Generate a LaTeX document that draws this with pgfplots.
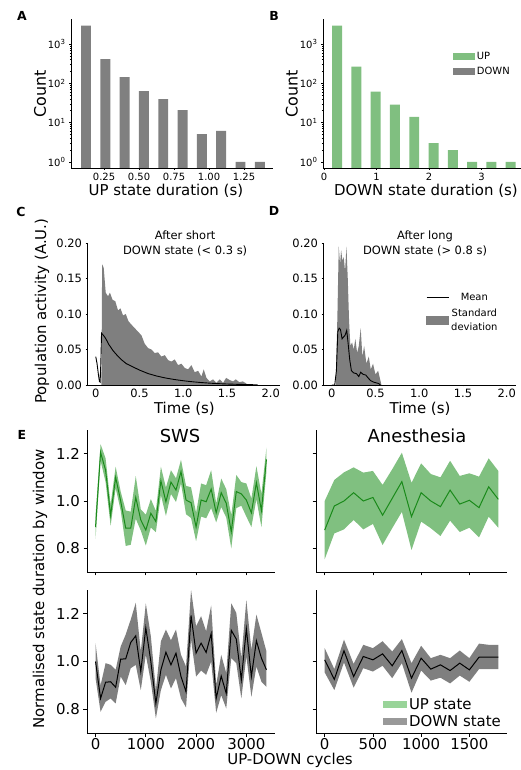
\documentclass[border=0pt]{standalone}
\usepackage{fontspec}
\setmainfont{DejaVu Sans}
\usepackage{pgfplots}
\pgfplotsset{compat=1.18}
\usepackage{pgfplotstable}

\definecolor{bargray}{HTML}{808080}
\definecolor{bargreen}{HTML}{80BF80}
\definecolor{bandgreen}{HTML}{80C080}
\definecolor{linegreen}{HTML}{1A8A1A}
\definecolor{bandgray}{HTML}{7F7F7F}
\definecolor{legup}{HTML}{99D499}
\definecolor{legdown}{HTML}{999999}

\pgfplotsset{
  base/.style={
    scale only axis, anchor=south west,
    axis x line*=bottom, axis y line*=left,
    axis line style={line width=0.8bp, -},
    tick style={black, line width=0.8bp},
    tick align=outside,
    major tick length=3.5bp, minor tick length=2bp,
  },
}

% mean lines
\pgfplotstableread{
x m
0 0.89
100 1.205
200 1.13
300 0.94
400 1.10
500 1.0
600 0.885
700 0.885
800 1.015
900 0.92
1000 0.877
1100 0.948
1200 0.913
1300 1.085
1400 0.997
1500 1.08
1600 1.046
1700 1.124
1800 1.004
1900 0.993
2000 0.89
2100 1.004
2200 0.997
2300 1.05
2400 0.95
2500 1.035
2600 0.99
2700 0.87
2800 1.04
2900 1.03
3000 1.004
3100 0.95
3200 1.077
3300 0.96
3400 1.176
}\swsup

\pgfplotstableread{
x m
0 0.877
100 0.979
200 1.0
300 1.035
400 1.0
500 1.015
600 0.94
700 1.011
800 1.082
900 0.934
1000 1.035
1100 1.0
1200 0.976
1300 1.046
1400 0.987
1500 1.003
1600 0.972
1700 1.06
1800 1.007
}\anup

\pgfplotstableread{
x m
0 1.0
100 0.845
200 0.913
300 0.915
400 0.892
500 1.01
600 1.011
700 1.08
800 1.108
900 0.958
1000 1.141
1100 1.0
1200 0.824
1300 0.965
1400 1.039
1500 0.986
1600 1.035
1700 0.937
1800 0.873
1900 1.193
2000 1.035
2100 1.077
2200 1.038
2300 1.117
2400 0.845
2500 0.939
2600 0.866
2700 1.131
2800 1.094
2900 0.923
3000 1.137
3100 0.937
3200 1.087
3300 1.014
3400 0.965
}\swsdown

\pgfplotstableread{
x m
0 1.007
100 0.925
200 1.045
300 0.937
400 1.021
500 1.007
600 1.032
700 0.982
800 1.046
900 0.93
1000 1.014
1100 0.968
1200 0.986
1300 0.962
1400 0.993
1500 0.965
1600 1.018
1700 1.018
1800 1.018
}\andown

\begin{document}
\begin{tikzpicture}
\path[use as bounding box] (0,0) rectangle (521bp,770bp);

% ---------------- A ----------------
\begin{axis}[base, at={(71bp,602bp)}, width=202bp, height=149bp,
  major tick length=2bp, minor tick length=1.2bp,
  ymode=log, log origin y=infty, ymin=0.7, ymax=4400,
  xmin=0.014, xmax=1.457,
  xtick={0.25,0.5,0.75,1,1.25}, xticklabels={0.25,0.50,0.75,1.00,1.25},
  ytick={1,10,100,1000},
  yticklabels={10\textsuperscript{0},10\textsuperscript{1},10\textsuperscript{2},10\textsuperscript{3}},
  tick label style={font=\fontsize{10}{12}\selectfont},
  xlabel={UP state duration (s)}, ylabel={Count},
  xlabel style={at={(axis description cs:0.47,-0.15)}, anchor=center, font=\fontsize{15}{18}\selectfont},
  ylabel style={at={(axis description cs:-0.153,0.5)}, anchor=center, font=\fontsize{16}{19}\selectfont},
]
\addplot[ybar, bar width=0.071, fill=bargray, draw=none]
  coordinates {(0.121,3000)(0.259,415)(0.397,145)(0.535,64)(0.673,40)(0.811,21)(0.949,5.1)(1.087,6.2)(1.225,1)(1.363,1)};
\end{axis}

% ---------------- B ----------------
\begin{axis}[base, at={(323bp,602bp)}, width=198bp, height=149bp,
  major tick length=2bp, minor tick length=1.2bp,
  ymode=log, log origin y=infty, ymin=0.7, ymax=4400,
  xmin=-0.02, xmax=3.752,
  xtick={0,1,2,3}, xticklabels={0,1,2,3},
  ytick={1,10,100,1000},
  yticklabels={10\textsuperscript{0},10\textsuperscript{1},10\textsuperscript{2},10\textsuperscript{3}},
  tick label style={font=\fontsize{10}{12}\selectfont},
  xlabel={DOWN state duration (s)}, ylabel={Count},
  xlabel style={at={(axis description cs:0.52,-0.15)}, anchor=center, font=\fontsize{15}{18}\selectfont},
  ylabel style={at={(axis description cs:-0.157,0.5)}, anchor=center, font=\fontsize{16}{19}\selectfont},
  legend cell align=left,
  legend style={at={(axis description cs:0.655,0.79)}, anchor=north west, draw=none, fill=none,
     font=\fontsize{10}{12}\selectfont, inner sep=0pt, row sep=1.5bp},
  legend image code/.code={\fill[#1] (0bp,-3.5bp) rectangle (22bp,3.5bp);},
]
\addplot[ybar, bar width=0.19, fill=bargreen, draw=none, forget plot]
  coordinates {(0.248,3000)(0.616,270)(0.983,62)(1.351,29)(1.718,14)(2.086,3)(2.454,2)(2.821,1)(3.189,1)(3.556,1)};
\addlegendimage{fill=bargreen, draw=none}
\addlegendentry{UP}
\addlegendimage{fill=bargray, draw=none}
\addlegendentry{DOWN}
\end{axis}

% ---------------- C ----------------
\begin{axis}[base, at={(87bp,385bp)}, width=192.5bp, height=142bp,
  major tick length=1.5bp,
  xmin=-0.1, xmax=2.1, ymin=0, ymax=0.2,
  xtick={0,0.5,1,1.5,2}, xticklabels={0,0.5,1.0,1.5,2.0},
  ytick={0,0.05,0.1,0.15,0.2}, yticklabels={0.00,0.05,0.10,0.15,0.20},
  tick label style={font=\fontsize{11.5}{13}\selectfont},
  xticklabel style={yshift=1bp},
  xlabel={Time (s)}, ylabel={Population activity (A.U.)},
  xlabel style={at={(axis description cs:0.506,-0.168)}, anchor=center, font=\fontsize{15}{18}\selectfont},
  ylabel style={at={(axis description cs:-0.234,0.52)}, anchor=center, font=\fontsize{15}{18}\selectfont},
  title={After short\\DOWN state (< 0.3 s)},
  title style={at={(axis description cs:0.51,0.954)}, anchor=center, align=center, font=\fontsize{11.5}{15}\selectfont},
]
\addplot[fill=bandgray, draw=none] coordinates {
(0.0648,0)(0.073,0.17)(0.091,0.165)(0.114,0.13)(0.14,0.125)(0.162,0.13)(0.192,0.12)(0.223,0.118)
(0.255,0.105)(0.282,0.108)(0.312,0.098)(0.343,0.1)(0.373,0.09)(0.408,0.085)(0.446,0.08)(0.484,0.075)
(0.522,0.07)(0.56,0.058)(0.598,0.052)(0.636,0.05)(0.674,0.045)(0.712,0.046)(0.75,0.04)(0.789,0.042)
(0.827,0.035)(0.865,0.033)(0.903,0.036)(0.941,0.028)(0.979,0.03)(1.017,0.024)(1.055,0.022)(1.093,0.028)
(1.131,0.018)(1.17,0.02)(1.208,0.012)(1.234,0.022)(1.265,0.01)(1.303,0.005)(1.341,0.008)(1.379,0.003)
(1.417,0.008)(1.455,0.003)(1.49,0.01)(1.53,0.007)(1.57,0.005)(1.6,0.008)(1.64,0.004)(1.68,0.005)
(1.71,0.003)(1.74,0)} \closedcycle;
\addplot[black, line width=0.9bp] coordinates {
(0,0.04)(0.015,0.03)(0.03,0.015)(0.042,0.005)(0.05,0.004)(0.058,0.03)(0.066,0.073)(0.08,0.071)
(0.1,0.068)(0.12,0.064)(0.15,0.057)(0.2,0.048)(0.25,0.041)(0.3,0.035)(0.35,0.03)(0.4,0.027)
(0.45,0.024)(0.5,0.021)(0.6,0.016)(0.7,0.0125)(0.8,0.0098)(0.9,0.0077)(1.0,0.006)(1.1,0.0046)
(1.2,0.0035)(1.3,0.0026)(1.4,0.0019)(1.5,0.0014)(1.6,0.001)(1.7,0.0007)(1.8,0.0004)(1.85,0.0003)};
\end{axis}

% ---------------- D ----------------
\begin{axis}[base, at={(323bp,385bp)}, width=192.5bp, height=142bp,
  major tick length=1.5bp,
  xmin=-0.1, xmax=2.1, ymin=0, ymax=0.2,
  xtick={0,0.5,1,1.5,2}, xticklabels={0,0.5,1.0,1.5,2.0},
  ytick={0,0.05,0.1,0.15,0.2}, yticklabels={0.00,0.05,0.10,0.15,0.20},
  tick label style={font=\fontsize{11.5}{13}\selectfont},
  xticklabel style={yshift=1bp},
  xlabel={Time (s)},
  xlabel style={at={(axis description cs:0.504,-0.168)}, anchor=center, font=\fontsize{15}{18}\selectfont},
  title={After long\\DOWN state (> 0.8 s)},
  title style={at={(axis description cs:0.53,0.954)}, anchor=center, align=center, font=\fontsize{11.5}{15}\selectfont},
  legend style={at={(axis description cs:0.535,0.665)}, anchor=north west, draw=none, fill=none,
     font=\fontsize{10}{14}\selectfont, inner sep=0pt, row sep=3bp, cells={align=center}},
  legend cell align=center,
]
\addplot[fill=bandgray, draw=none, forget plot] coordinates {
(0.046,0)(0.065,0.1)(0.08,0.195)(0.095,0.17)(0.107,0.19)(0.122,0.175)(0.137,0.18)(0.152,0.16)
(0.168,0.195)(0.183,0.15)(0.198,0.09)(0.213,0.055)(0.232,0.06)(0.251,0.05)(0.27,0.065)(0.29,0.045)
(0.309,0.055)(0.331,0.08)(0.35,0.04)(0.37,0.055)(0.396,0.03)(0.423,0.04)(0.446,0.022)(0.472,0.03)
(0.499,0.015)(0.53,0.02)(0.549,0.01)(0.568,0)} \closedcycle;
\addplot[black, line width=0.9bp, forget plot] coordinates {
(0,0)(0.034,0)(0.053,0.02)(0.069,0.075)(0.084,0.08)(0.1,0.078)(0.118,0.065)(0.137,0.068)
(0.152,0.07)(0.171,0.077)(0.186,0.06)(0.206,0.035)(0.225,0.02)(0.251,0.017)(0.282,0.016)
(0.309,0.012)(0.331,0.018)(0.358,0.015)(0.389,0.014)(0.415,0.01)(0.446,0.006)(0.48,0.004)
(0.51,0.003)(0.537,0.002)(0.556,0)};
\addlegendimage{legend image code/.code={\draw[black, line width=1bp] (0bp,0bp) -- (22bp,0bp);}}
\addlegendentry{Mean}
\addlegendimage{legend image code/.code={\fill[bandgray] (0bp,-4bp) rectangle (22bp,4bp);}}
\addlegendentry{Standard\\deviation}
\end{axis}

% ---------------- E1 ----------------
\begin{axis}[base, at={(87bp,198bp)}, width=188bp, height=142bp,
  xmin=-170, xmax=3570, ymin=0.7, ymax=1.3,
  xtick={0,1000,2000,3000}, xticklabels={},
  ytick={0.8,1,1.2}, yticklabels={0.8,1.0,1.2},
  tick label style={font=\fontsize{15}{18}\selectfont},
  title={SWS},
  title style={at={(axis description cs:0.495,0.915)}, anchor=center, font=\fontsize{18}{21}\selectfont},
]
\addplot[fill=bandgreen, draw=none, forget plot] coordinates {
(0,0.94)(100,1.24)(200,1.18)(300,0.985)(400,1.145)(500,1.04)(600,0.96)(700,0.955)(800,1.105)(900,0.965)
(1000,0.942)(1100,1.008)(1200,0.958)(1300,1.145)(1400,1.057)(1500,1.13)(1600,1.096)(1700,1.174)(1800,1.064)
(1900,1.058)(2000,0.95)(2100,1.074)(2200,1.067)(2300,1.13)(2400,0.99)(2500,1.095)(2600,1.05)(2700,0.94)
(2800,1.11)(2900,1.08)(3000,1.074)(3100,1.01)(3200,1.147)(3300,1.03)(3400,1.226)
(3400,1.126)(3300,0.89)(3200,1.007)(3100,0.89)(3000,0.934)(2900,0.98)(2800,0.97)(2700,0.80)(2600,0.93)
(2500,0.975)(2400,0.91)(2300,0.97)(2200,0.927)(2100,0.934)(2000,0.83)(1900,0.928)(1800,0.944)(1700,1.074)
(1600,0.996)(1500,1.03)(1400,0.937)(1300,1.025)(1200,0.868)(1100,0.888)(1000,0.812)(900,0.875)(800,0.925)
(700,0.815)(600,0.81)(500,0.96)(400,1.055)(300,0.895)(200,1.08)(100,1.17)(0,0.84)};
\addplot[linegreen, line width=1bp] table[x=x,y=m]{\swsup};
\end{axis}

% ---------------- E2 ----------------
\begin{axis}[base, at={(316bp,198bp)}, width=191bp, height=142bp,
  xmin=-90, xmax=1890, ymin=0.7, ymax=1.3,
  xtick={0,500,1000,1500}, xticklabels={},
  ytick={0.8,1,1.2}, yticklabels={},
  title={Anesthesia},
  title style={at={(axis description cs:0.529,0.915)}, anchor=center, font=\fontsize{18}{21}\selectfont},
]
\addplot[fill=bandgreen, draw=none, forget plot] coordinates {
(0,1.0)(100,1.089)(200,1.121)(300,1.142)(400,1.12)(500,1.127)(600,1.068)(700,1.134)(800,1.204)(900,1.077)
(1000,1.159)(1100,1.114)(1200,1.1)(1300,1.17)(1400,1.106)(1500,1.117)(1600,1.103)(1700,1.18)(1800,1.127)
(1800,0.887)(1700,0.934)(1600,0.846)(1500,0.887)(1400,0.869)(1300,0.917)(1200,0.852)(1100,0.885)(1000,0.913)
(900,0.793)(800,0.954)(700,0.885)(600,0.814)(500,0.903)(400,0.88)(300,0.92)(200,0.88)(100,0.863)(0,0.754)};
\addplot[linegreen, line width=1bp] table[x=x,y=m]{\anup};
\end{axis}

% ---------------- E3 ----------------
\begin{axis}[base, at={(87bp,37bp)}, width=188bp, height=143bp,
  xmin=-170, xmax=3570, ymin=0.7, ymax=1.3,
  xtick={0,1000,2000,3000}, xticklabels={0,1000,2000,3000},
  ytick={0.8,1,1.2}, yticklabels={0.8,1.0,1.2},
  tick label style={font=\fontsize{15}{18}\selectfont},
  xticklabel style={yshift=1.5bp},
  xlabel={UP-DOWN cycles}, ylabel={Normalised state duration by window},
  xlabel style={at={(axis description cs:1.08,-0.19)}, anchor=center, font=\fontsize{15}{18}\selectfont},
  ylabel style={at={(axis description cs:-0.25,1.007)}, anchor=center, font=\fontsize{15}{18}\selectfont},
]
\addplot[fill=bandgray, draw=none, forget plot] coordinates {
(0,1.077)(100,0.9)(200,0.993)(300,0.986)(400,0.965)(500,1.063)(600,1.113)(700,1.176)(800,1.246)(900,1.042)
(1000,1.244)(1100,1.106)(1200,0.88)(1300,1.085)(1400,1.134)(1500,1.089)(1600,1.134)(1700,1.028)(1800,0.979)
(1900,1.30)(2000,1.148)(2100,1.19)(2200,1.127)(2300,1.235)(2400,0.901)(2500,1.028)(2600,0.951)(2700,1.244)
(2800,1.204)(2900,1.014)(3000,1.258)(3100,1.049)(3200,1.197)(3300,1.12)(3400,1.042)
(3400,0.894)(3300,0.915)(3200,0.979)(3100,0.852)(3000,1.021)(2900,0.845)(2800,0.993)(2700,1.014)(2600,0.803)
(2500,0.859)(2400,0.785)(2300,1.0)(2200,0.944)(2100,0.962)(2000,0.937)(1900,1.092)(1800,0.807)(1700,0.845)
(1600,0.93)(1500,0.887)(1400,0.944)(1300,0.88)(1200,0.761)(1100,0.915)(1000,1.028)(900,0.88)(800,0.986)
(700,0.972)(600,0.901)(500,0.937)(400,0.824)(300,0.845)(200,0.831)(100,0.789)(0,0.93)};
\addplot[black, line width=1bp] table[x=x,y=m]{\swsdown};
\end{axis}

% ---------------- E4 ----------------
\begin{axis}[base, at={(316bp,37bp)}, width=191bp, height=143bp,
  xmin=-90, xmax=1890, ymin=0.7, ymax=1.3,
  xtick={0,500,1000,1500}, xticklabels={0,500,1000,1500},
  ytick={0.8,1,1.2}, yticklabels={},
  tick label style={font=\fontsize{15}{18}\selectfont},
  xticklabel style={yshift=1.5bp},
  legend cell align=left,
  legend style={at={(axis description cs:0.35,0.255)}, anchor=north west, draw=none, fill=none,
     font=\fontsize{15}{18}\selectfont, inner sep=0pt, row sep=0bp},
  legend image code/.code={\fill[#1] (0bp,-3.5bp) rectangle (24bp,3.5bp);},
]
\addplot[fill=bandgray, draw=none, forget plot] coordinates {
(0,1.056)(100,0.968)(200,1.092)(300,0.99)(400,1.07)(500,1.056)(600,1.085)(700,1.042)(800,1.094)(900,0.993)
(1000,1.066)(1100,1.014)(1200,1.028)(1300,1.014)(1400,1.046)(1500,1.014)(1600,1.075)(1700,1.07)(1800,1.07)
(1800,0.968)(1700,0.968)(1600,0.968)(1500,0.915)(1400,0.941)(1300,0.908)(1200,0.932)(1100,0.92)(1000,0.962)
(900,0.869)(800,0.993)(700,0.93)(600,0.982)(500,0.958)(400,0.972)(300,0.89)(200,0.996)(100,0.88)(0,0.954)};
\addplot[black, line width=1bp, forget plot] table[x=x,y=m]{\andown};
\addlegendimage{fill=legup, draw=none}
\addlegendentry{UP state}
\addlegendimage{fill=legdown, draw=none}
\addlegendentry{DOWN state}
\end{axis}

% panel letters
\node[font=\bfseries\fontsize{12.5}{14}\selectfont] at (22bp,754bp) {A};
\node[font=\bfseries\fontsize{12.5}{14}\selectfont] at (274bp,754bp) {B};
\node[font=\bfseries\fontsize{12.5}{14}\selectfont] at (21bp,558bp) {C};
\node[font=\bfseries\fontsize{12.5}{14}\selectfont] at (274bp,559bp) {D};
\node[font=\bfseries\fontsize{12.5}{14}\selectfont] at (22bp,335bp) {E};
\end{tikzpicture}
\end{document}
